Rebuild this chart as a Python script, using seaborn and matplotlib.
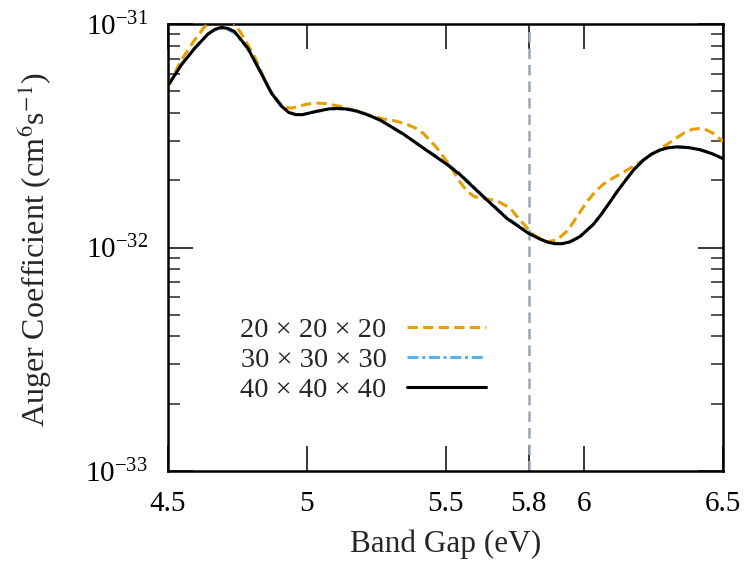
import numpy as np
import matplotlib

matplotlib.use('Agg')
import matplotlib.pyplot as plt
import seaborn as sns
from matplotlib.ticker import LogLocator, NullFormatter, FixedLocator, FixedFormatter

# Band gap (eV) and Auger coefficient (units of 1e-32 cm^6 s^-1)
gap_20 = [4.500, 4.548, 4.596, 4.632, 4.665, 4.700, 4.735, 4.764, 4.812, 4.860, 4.896,
          4.920, 4.945, 4.970, 5.000, 5.035, 5.070, 5.120, 5.180, 5.230, 5.276, 5.320,
          5.360, 5.392, 5.420, 5.468, 5.510, 5.528, 5.550, 5.576, 5.600, 5.624, 5.655,
          5.685, 5.733, 5.775, 5.817, 5.865, 5.901, 5.943, 5.961, 6.009, 6.040, 6.069,
          6.105, 6.141, 6.213, 6.285, 6.357, 6.390, 6.417, 6.440, 6.465, 6.500]
auger_20 = [5.25, 6.90, 8.48, 9.73, 10.3, 10.5, 10.2, 9.08, 7.14, 5.25, 4.50,
            4.25, 4.20, 4.28, 4.38, 4.43, 4.40, 4.28, 4.08, 3.90, 3.76, 3.68,
            3.56, 3.42, 3.24, 2.80, 2.38, 2.20, 1.98, 1.80, 1.70, 1.66, 1.645,
            1.62, 1.50, 1.30, 1.14, 1.06, 1.08, 1.20, 1.30, 1.60, 1.78, 1.92,
            2.05, 2.17, 2.46, 2.82, 3.24, 3.38, 3.41, 3.36, 3.24, 2.98]

gap_30 = [4.500, 4.548, 4.596, 4.644, 4.668, 4.692, 4.716, 4.740, 4.788, 4.836, 4.872,
          4.908, 4.935, 4.960, 4.985, 5.036, 5.080, 5.108, 5.140, 5.180, 5.220, 5.264,
          5.348, 5.432, 5.504, 5.552, 5.636, 5.721, 5.798, 5.841, 5.870, 5.895, 5.920,
          5.949, 5.985, 6.033, 6.060, 6.093, 6.120, 6.153, 6.180, 6.213, 6.243, 6.273,
          6.300, 6.333, 6.375, 6.417, 6.460, 6.500]
auger_30 = [5.32, 6.60, 7.82, 9.00, 9.40, 9.55, 9.45, 9.12, 7.74, 6.05, 4.95,
            4.33, 4.03, 3.94, 3.93, 4.06, 4.16, 4.18, 4.16, 4.07, 3.92, 3.71,
            3.21, 2.73, 2.38, 2.14, 1.70, 1.36, 1.17, 1.09, 1.06, 1.045, 1.04,
            1.06, 1.12, 1.27, 1.40, 1.60, 1.79, 2.03, 2.24, 2.46, 2.62, 2.73,
            2.79, 2.82, 2.80, 2.74, 2.63, 2.50]

gap_40 = [4.500, 4.548, 4.596, 4.644, 4.668, 4.692, 4.716, 4.740, 4.788, 4.836, 4.872,
          4.908, 4.935, 4.960, 4.985, 5.036, 5.080, 5.108, 5.140, 5.180, 5.220, 5.264,
          5.348, 5.432, 5.504, 5.552, 5.636, 5.721, 5.798, 5.841, 5.870, 5.895, 5.920,
          5.949, 5.985, 6.033, 6.060, 6.093, 6.120, 6.153, 6.180, 6.213, 6.243, 6.273,
          6.300, 6.333, 6.375, 6.417, 6.460, 6.500]
auger_40 = [5.30, 6.56, 7.78, 9.02, 9.45, 9.66, 9.55, 9.24, 7.78, 6.01, 4.92,
            4.30, 4.02, 3.93, 3.93, 4.07, 4.17, 4.19, 4.17, 4.08, 3.92, 3.72,
            3.22, 2.72, 2.36, 2.12, 1.69, 1.35, 1.16, 1.09, 1.055, 1.04, 1.04,
            1.06, 1.12, 1.27, 1.40, 1.60, 1.79, 2.03, 2.24, 2.46, 2.62, 2.73,
            2.79, 2.82, 2.80, 2.74, 2.63, 2.50]

scale = 1e-32
labels = ['20 × 20 × 20', '30 × 30 × 30', '40 × 40 × 40']
x_ticks = [4.5, 5, 5.5, 5.8, 6, 6.5]
x_tick_labels = ['4.5', '5', '5.5', '5.8', '6', '6.5']
y_ticks = [1e-33, 1e-32, 1e-31]
marker_gap = 5.8

sns.set_theme(style='ticks')
plt.rcParams['font.family'] = ['Liberation Serif', 'DejaVu Serif']
plt.rcParams['mathtext.fontset'] = 'stix'

fig = plt.figure(figsize=(7.45, 5.61), dpi=100)
ax = fig.add_axes([168 / 745, 1 - 471 / 561, 555 / 745, 447 / 561])

ax.axvline(marker_gap, color='#98a6b5', lw=1.8, dashes=(4.2, 2.4), zorder=1)

sns.lineplot(x=gap_20, y=np.array(auger_20) * scale, ax=ax, color='#e69f00', lw=2.2,
             label=labels[0], zorder=3)
sns.lineplot(x=gap_30, y=np.array(auger_30) * scale, ax=ax, color='#56b4e9', lw=2.2,
             label=labels[1], zorder=2)
sns.lineplot(x=gap_40, y=np.array(auger_40) * scale, ax=ax, color='black', lw=2.2,
             label=labels[2], zorder=4)
ax.lines[1].set_dashes((3.4, 1.7))
ax.lines[2].set_dashes((3.6, 1.2, 1, 1.2))

ax.set_yscale('log')
ax.set_xlim(4.5, 6.5)
ax.set_ylim(1e-33, 1e-31)

ax.xaxis.set_major_locator(FixedLocator(x_ticks))
ax.xaxis.set_major_formatter(FixedFormatter(x_tick_labels))
ax.yaxis.set_major_locator(FixedLocator(y_ticks))
ax.yaxis.set_minor_locator(LogLocator(base=10, subs=np.arange(2, 10), numticks=20))
ax.yaxis.set_minor_formatter(NullFormatter())

ax.tick_params(which='major', direction='in', length=18, width=1.1, top=True, right=True,
               labelsize=21, pad=14.5, colors='black')
ax.tick_params(which='minor', direction='in', length=8.6, width=1.1, left=True, right=True)
ax.tick_params(axis='x', which='minor', bottom=False, top=False)
for side in ax.spines.values():
    side.set_linewidth(1.8)
    side.set_color('black')

ax.set_xlabel('Band Gap (eV)', fontsize=22.5, labelpad=9)
ax.set_ylabel(r'Auger Coefficient (cm$^{6}$s$^{-1}$)', fontsize=23)
ax.yaxis.set_label_coords(-0.205, 0.495)

leg = ax.legend(loc='center', bbox_to_anchor=(0.352, 0.248), frameon=False, fontsize=20.5,
                markerfirst=False, handlelength=2.8, handletextpad=0.7, labelspacing=0.15)
for t in leg.get_texts():
    t.set_ha('right')

fig.savefig('out.png', dpi=100)
